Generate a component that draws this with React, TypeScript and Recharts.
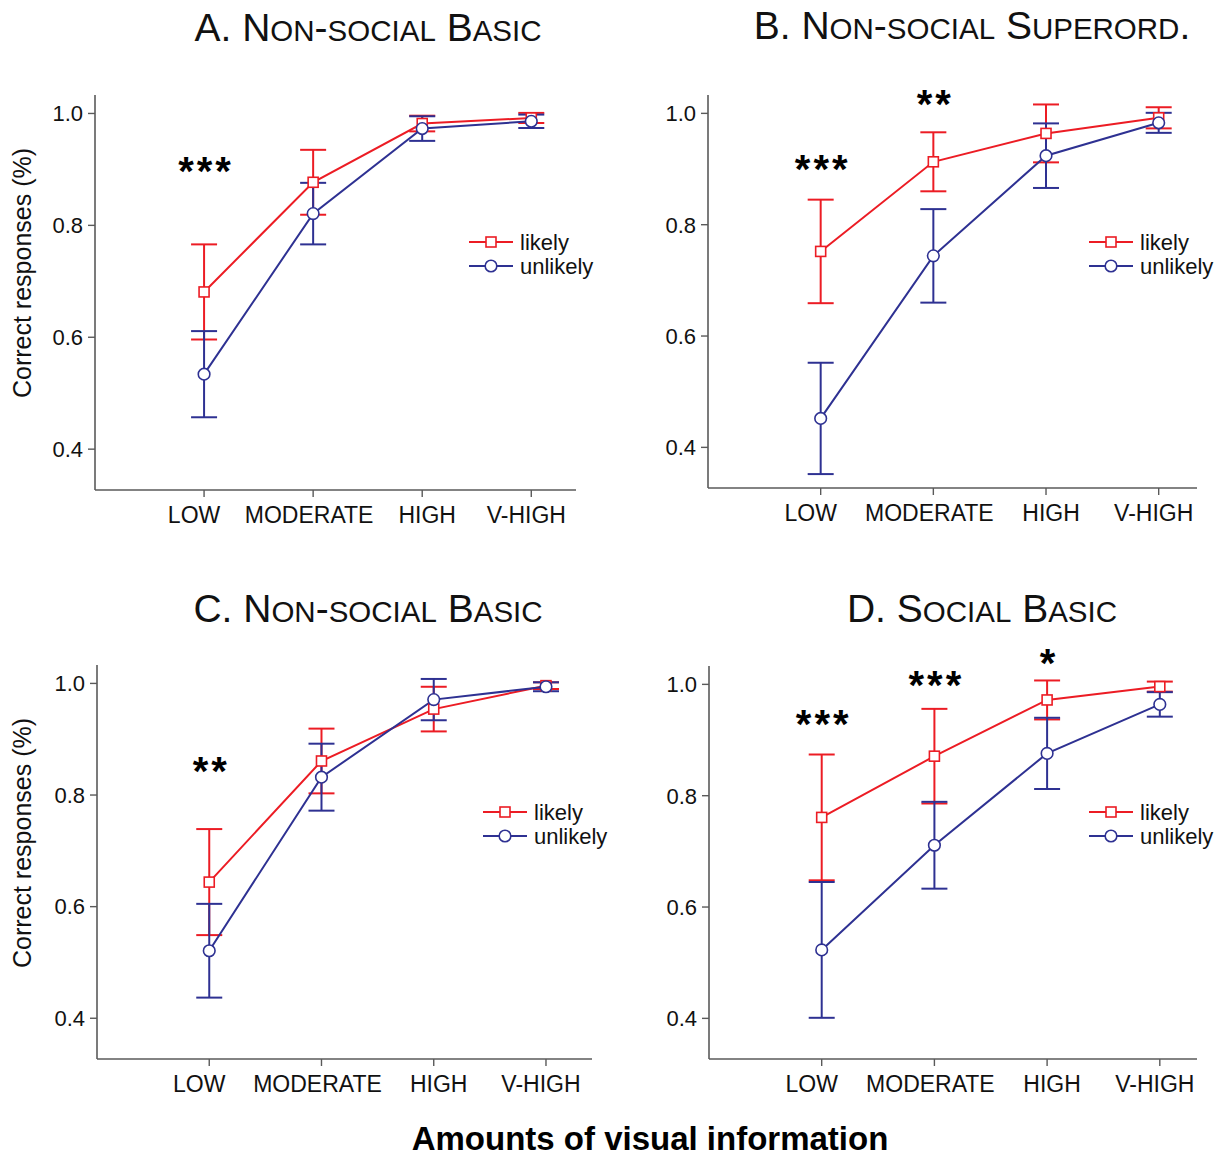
import React from "react";
import {
  LineChart,
  Line,
  XAxis,
  YAxis,
  ErrorBar,
  Legend,
  ReferenceDot,
} from "recharts";

const RED = "#ec1c24";
const BLUE = "#2e3192";
const AXIS = "#5a5a5a";
const INK = "#111";
const FONT = "'Liberation Sans', Arial, sans-serif";

// categories
const levels = ["LOW", "MODERATE", "HIGH", "V-HIGH"];
const yTicks = [0.4, 0.6, 0.8, 1.0];
// the original's category labels sit a little off their ticks
const labelShift = [-10, -4, 5, -5];

// A. Non-social basic
const likelyA = [0.681, 0.877, 0.982, 0.992];
const likelyErrA = [0.085, 0.058, 0.014, 0.009];
const unlikelyA = [0.534, 0.821, 0.973, 0.986];
const unlikelyErrA = [0.077, 0.055, 0.022, 0.012];
const sigA = [{ x: 1, y: 0.911, text: "***" }];

// B. Non-social superordinate
const likelyB = [0.752, 0.913, 0.964, 0.992];
const likelyErrB = [0.093, 0.053, 0.052, 0.019];
const unlikelyB = [0.452, 0.744, 0.924, 0.983];
const unlikelyErrB = [0.1, 0.084, 0.058, 0.018];
const sigB = [
  { x: 1, y: 0.914, text: "***" },
  { x: 2, y: 1.032, text: "**" },
];

// C. Non-social basic
const likelyC = [0.644, 0.861, 0.954, 0.996];
const likelyErrC = [0.095, 0.058, 0.04, 0.006];
const unlikelyC = [0.521, 0.832, 0.971, 0.994];
const unlikelyErrC = [0.084, 0.06, 0.037, 0.008];
const sigC = [{ x: 1, y: 0.858, text: "**" }];

// D. Social basic
const likelyD = [0.761, 0.871, 0.972, 0.996];
const likelyErrD = [0.113, 0.085, 0.035, 0.009];
const unlikelyD = [0.523, 0.711, 0.876, 0.964];
const unlikelyErrD = [0.122, 0.078, 0.064, 0.022];
const sigD = [
  { x: 1, y: 0.944, text: "***" },
  { x: 2, y: 1.013, text: "***" },
  { x: 3, y: 1.052, text: "*" },
];

const rows = (lk: number[], lkE: number[], un: number[], unE: number[]) =>
  levels.map((name, i) => ({
    x: i + 1,
    name,
    likely: lk[i],
    likelyErr: lkE[i],
    unlikely: un[i],
    unlikelyErr: unE[i],
  }));

const PANELS = [
  {
    title: "A. Non-social Basic",
    titleX: 368,
    titleY: 41,
    plot: { left: 95, top: 95, w: 481, h: 395 },
    xMax: 4.41,
    legend: { x: 469, y: 242 },
    yLabel: { x: 31, y: 273 },
    data: rows(likelyA, likelyErrA, unlikelyA, unlikelyErrA),
    sig: sigA,
  },
  {
    title: "B. Non-social Superord.",
    titleX: 972,
    titleY: 39,
    plot: { left: 708, top: 95, w: 489, h: 393 },
    xMax: 4.34,
    legend: { x: 1089, y: 242 },
    yLabel: null,
    data: rows(likelyB, likelyErrB, unlikelyB, unlikelyErrB),
    sig: sigB,
  },
  {
    title: "C. Non-social Basic",
    titleX: 368,
    titleY: 622,
    plot: { left: 97, top: 665, w: 495, h: 394 },
    xMax: 4.41,
    legend: { x: 483, y: 812 },
    yLabel: { x: 31, y: 843 },
    data: rows(likelyC, likelyErrC, unlikelyC, unlikelyErrC),
    sig: sigC,
  },
  {
    title: "D. Social Basic",
    titleX: 982,
    titleY: 622,
    plot: { left: 709, top: 666, w: 488, h: 393 },
    xMax: 4.33,
    legend: { x: 1089, y: 812 },
    yLabel: null,
    data: rows(likelyD, likelyErrD, unlikelyD, unlikelyErrD),
    sig: sigD,
  },
];

const M = { top: 40, right: 20, bottom: 10, left: 0 };
const Y_W = 60;
const X_H = 45;

const squareDot = (p: any) => {
  if (p.cx == null || p.cy == null) return <g key={`sq-${p.index}`} />;
  return (
    <rect
      key={`sq-${p.index}`}
      x={p.cx - 5}
      y={p.cy - 5}
      width={10}
      height={10}
      fill="#fff"
      stroke={RED}
      strokeWidth={1.6}
    />
  );
};

const CategoryTick = (p: any) => {
  const i = p.payload.value - 1;
  return (
    <text
      x={p.x + (labelShift[i] ?? 0)}
      y={p.y}
      dy="0.71em"
      textAnchor="middle"
      fontSize={23}
      fill={INK}
      fontFamily={FONT}
    >
      {levels[i] ?? ""}
    </text>
  );
};

const LegendBox = () => (
  <svg width={170} height={48} style={{ overflow: "visible", display: "block" }}>
    <line x1={0} x2={44} y1={12} y2={12} stroke={RED} strokeWidth={2} />
    <rect x={17} y={7} width={10} height={10} fill="#fff" stroke={RED} strokeWidth={1.6} />
    <text x={51} y={20} fontSize={22} fill={INK} fontFamily={FONT}>likely</text>
    <line x1={0} x2={44} y1={36} y2={36} stroke={BLUE} strokeWidth={2} />
    <circle cx={22} cy={36} r={5.8} fill="#fff" stroke={BLUE} strokeWidth={1.6} />
    <text x={51} y={44} fontSize={22} fill={INK} fontFamily={FONT}>unlikely</text>
  </svg>
);

// small caps: lowercase letters are drawn as smaller capitals
const SmallCapsTitle = ({ text, x, y }: { text: string; x: number; y: number }) => {
  const runs: { s: string; small: boolean }[] = [];
  for (const ch of text) {
    const small = ch >= "a" && ch <= "z";
    const last = runs[runs.length - 1];
    if (last && last.small === small) last.s += ch;
    else runs.push({ s: ch, small });
  }
  return (
    <text x={x} y={y} textAnchor="middle" fill={INK} fontFamily={FONT}>
      {runs.map((r, i) => (
        <tspan key={i} fontSize={r.small ? 29.5 : 39}>
          {r.small ? r.s.toUpperCase() : r.s}
        </tspan>
      ))}
    </text>
  );
};

function Panel({ cfg }: { cfg: (typeof PANELS)[number] }) {
  const { plot } = cfg;
  const left = plot.left - M.left - Y_W;
  const top = plot.top - M.top;
  const width = plot.w + M.left + Y_W + M.right;
  const height = plot.h + M.top + M.bottom + X_H;
  return (
    <div style={{ position: "absolute", left, top }}>
      <LineChart
        width={width}
        height={height}
        data={cfg.data}
        margin={M}
        style={{ fontFamily: FONT }}
      >
        <XAxis
          dataKey="x"
          type="number"
          domain={[0, cfg.xMax]}
          ticks={[1, 2, 3, 4]}
          allowDataOverflow
          height={X_H}
          axisLine={{ stroke: AXIS, strokeWidth: 1.6 }}
          tickLine={{ stroke: AXIS, strokeWidth: 1.4 }}
          tickSize={7}
          tickMargin={10}
          tick={CategoryTick}
        />
        <YAxis
          type="number"
          domain={[0.327, 1.033]}
          ticks={yTicks}
          allowDataOverflow
          tickFormatter={(v: number) => v.toFixed(1)}
          width={Y_W}
          axisLine={{ stroke: AXIS, strokeWidth: 1.6 }}
          tickLine={{ stroke: AXIS, strokeWidth: 1.4 }}
          tickSize={7}
          tickMargin={5}
          tick={{ fontSize: 22, fill: INK }}
        />
        <Legend
          layout="horizontal"
          verticalAlign="middle"
          align="center"
          content={() => <LegendBox />}
          wrapperStyle={{
            left: cfg.legend.x - left,
            top: cfg.legend.y - 12 - top,
            width: 170,
            height: 48,
          }}
        />
        <Line
          dataKey="likely"
          name="likely"
          stroke={RED}
          strokeWidth={2}
          dot={squareDot}
          activeDot={false}
          isAnimationActive={false}
        >
          <ErrorBar dataKey="likelyErr" width={13} stroke={RED} strokeWidth={2} isAnimationActive={false} />
        </Line>
        <Line
          dataKey="unlikely"
          name="unlikely"
          stroke={BLUE}
          strokeWidth={2}
          dot={{ r: 5.8, fill: "#fff", stroke: BLUE, strokeWidth: 1.6 }}
          activeDot={false}
          isAnimationActive={false}
        >
          <ErrorBar dataKey="unlikelyErr" width={13} stroke={BLUE} strokeWidth={2} isAnimationActive={false} />
        </Line>
        {cfg.sig.map((s, i) => (
          <ReferenceDot
            key={i}
            x={s.x}
            y={s.y}
            ifOverflow="visible"
            shape={(p: any) => (
              <text
                x={p.cx + 2}
                y={p.cy + 22}
                textAnchor="middle"
                fontSize={40}
                fontWeight="bold"
                letterSpacing={3}
                fill="#000"
                fontFamily={FONT}
              >
                {s.text}
              </text>
            )}
          />
        ))}
      </LineChart>
    </div>
  );
}

export default function App() {
  return (
    <div
      style={{
        position: "absolute",
        left: 0,
        top: 0,
        width: 1231,
        height: 1156,
        background: "#fff",
        fontFamily: FONT,
      }}
    >
      {PANELS.map((p, i) => (
        <Panel key={i} cfg={p} />
      ))}
      <svg
        width={1231}
        height={1156}
        style={{ position: "absolute", left: 0, top: 0, pointerEvents: "none" }}
      >
        {PANELS.map((p, i) => (
          <SmallCapsTitle key={`t${i}`} text={p.title} x={p.titleX} y={p.titleY} />
        ))}
        {PANELS.filter((p) => p.yLabel).map((p, i) => (
          <text
            key={`y${i}`}
            x={p.yLabel!.x}
            y={p.yLabel!.y}
            transform={`rotate(-90 ${p.yLabel!.x} ${p.yLabel!.y})`}
            textAnchor="middle"
            fontSize={25}
            fill={INK}
            fontFamily={FONT}
          >
            Correct responses (%)
          </text>
        ))}
        <text
          x={650}
          y={1150}
          textAnchor="middle"
          fontSize={33}
          fontWeight="bold"
          fill="#000"
          fontFamily={FONT}
        >
          Amounts of visual information
        </text>
      </svg>
    </div>
  );
}
